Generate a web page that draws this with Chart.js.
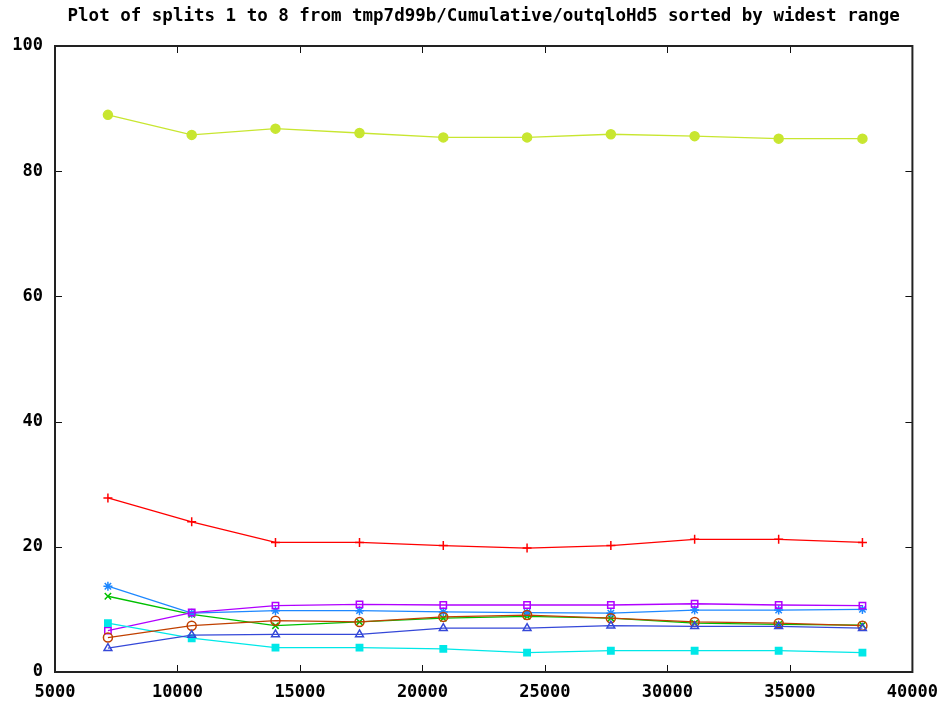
<!DOCTYPE html>
<html lang="en">
<head>
    <meta charset="UTF-8" />
    <title>Plot of splits 1 to 8</title>
    <script src="https://cdn.jsdelivr.net/npm/chart.js"></script>
    <style>
        body { margin: 0; background: #fff; }
        #splitChart { display: block; }
    </style>
</head>
<body>
<canvas id="splitChart" width="948" height="709"></canvas>

<script>
    // sample sizes along the x axis
    const xValues = [7160, 10580, 14000, 17430, 20850, 24270, 27690, 31110, 34540, 37960];

    // one array per split
    const split1 = [27.8, 24.0, 20.7, 20.7, 20.2, 19.8, 20.2, 21.2, 21.2, 20.7];
    const split2 = [12.1, 9.2, 7.4, 8.0, 8.6, 8.9, 8.6, 7.8, 7.6, 7.5];
    const split3 = [13.7, 9.4, 9.8, 9.8, 9.6, 9.5, 9.4, 9.9, 9.9, 10.0];
    const split4 = [6.6, 9.5, 10.6, 10.8, 10.7, 10.7, 10.7, 10.9, 10.7, 10.6];
    const split5 = [7.8, 5.4, 3.9, 3.9, 3.7, 3.1, 3.4, 3.4, 3.4, 3.1];
    const split6 = [5.5, 7.4, 8.2, 8.0, 8.8, 9.1, 8.6, 8.0, 7.8, 7.4];
    const split7 = [89.0, 85.8, 86.8, 86.1, 85.4, 85.4, 85.9, 85.6, 85.2, 85.2];
    const split8 = [3.8, 5.9, 6.0, 6.0, 7.0, 7.0, 7.4, 7.3, 7.3, 7.0];

    const xTicks = [5000, 10000, 15000, 20000, 25000, 30000, 35000, 40000];
    const yTicks = [0, 20, 40, 60, 80, 100];

    const titleText = "Plot of splits 1 to 8 from tmp7d99b/Cumulative/outqloHd5 sorted by widest range";
    const monoFont = "'DejaVu Sans Mono', monospace";

    // gnuplot-like styles: colour, point style, filled or not
    const styles = [
        { color: "#ff0000", point: "cross", fill: false },
        { color: "#00c000", point: "crossRot", fill: false },
        { color: "#1e88ff", point: "star", fill: false },
        { color: "#b000ff", point: "rect", fill: false },
        { color: "#00e8e8", point: "rect", fill: true },
        { color: "#c04000", point: "circle", fill: false },
        { color: "#c8e630", point: "circle", fill: true },
        { color: "#3548d8", point: "triangle", fill: false },
    ];

    const allSplits = [split1, split2, split3, split4, split5, split6, split7, split8];

    const datasets = allSplits.map((vals, i) => ({
        label: "split " + (i + 1),
        data: vals.map((v, k) => ({ x: xValues[k], y: v })),
        borderColor: styles[i].color,
        backgroundColor: styles[i].fill ? styles[i].color : "rgba(0,0,0,0)",
        pointBorderColor: styles[i].color,
        pointBackgroundColor: styles[i].fill ? styles[i].color : "rgba(0,0,0,0)",
        pointStyle: styles[i].point,
        pointRadius: 4.5,
        pointBorderWidth: 1.5,
        borderWidth: 1.3,
        tension: 0,
        order: allSplits.length - i,
    }));

    // title centred on the plot area, like gnuplot does it
    const titlePlugin = {
        id: "gnuTitle",
        afterDraw(chart) {
            const ctx = chart.ctx;
            const area = chart.chartArea;
            ctx.save();
            ctx.font = "bold 17.5px " + monoFont;
            ctx.fillStyle = "#000";
            ctx.textAlign = "center";
            ctx.textBaseline = "alphabetic";
            ctx.fillText(titleText, (area.left + area.right) / 2, 21);
            ctx.restore();
        }
    };

    // closed frame with inward ticks mirrored on all four sides
    const framePlugin = {
        id: "gnuFrame",
        afterDraw(chart) {
            const ctx = chart.ctx;
            const a = chart.chartArea;
            const xs = chart.scales.x;
            const ys = chart.scales.y;
            const len = 7;
            ctx.save();
            ctx.strokeStyle = "#111";
            ctx.lineWidth = 1;
            ctx.beginPath();
            xTicks.forEach((t) => {
                const px = Math.round(xs.getPixelForValue(t)) + 0.5;
                ctx.moveTo(px, a.bottom);
                ctx.lineTo(px, a.bottom - len);
                ctx.moveTo(px, a.top);
                ctx.lineTo(px, a.top + len);
            });
            yTicks.forEach((t) => {
                const py = Math.round(ys.getPixelForValue(t)) + 0.5;
                ctx.moveTo(a.left, py);
                ctx.lineTo(a.left + len, py);
                ctx.moveTo(a.right, py);
                ctx.lineTo(a.right - len, py);
            });
            ctx.stroke();
            ctx.lineWidth = 2;
            ctx.strokeStyle = "#222";
            ctx.strokeRect(a.left, a.top, a.right - a.left, a.bottom - a.top);
            ctx.restore();
        }
    };

    const ctx = document.getElementById("splitChart").getContext("2d");
    const splitChart = new Chart(ctx, {
        type: "line",
        data: { datasets: datasets },
        options: {
            responsive: false,
            animation: false,
            devicePixelRatio: 1,
            layout: { padding: { top: 46, right: 35, left: 0, bottom: 0 } },
            plugins: {
                legend: { display: false },
                tooltip: { enabled: false },
                title: { display: false },
            },
            scales: {
                x: {
                    type: "linear",
                    min: 5000,
                    max: 40000,
                    afterFit: (scale) => { scale.height = 37; },
                    afterBuildTicks: (scale) => {
                        scale.ticks = xTicks.map((v) => ({ value: v }));
                    },
                    grid: { display: false, drawTicks: false },
                    border: { display: false },
                    ticks: {
                        padding: 10,
                        color: "#000",
                        maxRotation: 0,
                        autoSkip: false,
                        font: { family: monoFont, size: 17, weight: "bold" },
                        callback: (v) => String(v),
                    },
                },
                y: {
                    min: 0,
                    max: 100,
                    afterFit: (scale) => { scale.width = 55; },
                    afterBuildTicks: (scale) => {
                        scale.ticks = yTicks.map((v) => ({ value: v }));
                    },
                    grid: { display: false, drawTicks: false },
                    border: { display: false },
                    ticks: {
                        padding: 12,
                        color: "#000",
                        autoSkip: false,
                        font: { family: monoFont, size: 17, weight: "bold" },
                        callback: (v) => String(v),
                    },
                },
            },
        },
        plugins: [titlePlugin, framePlugin],
    });
</script>
</body>
</html>
